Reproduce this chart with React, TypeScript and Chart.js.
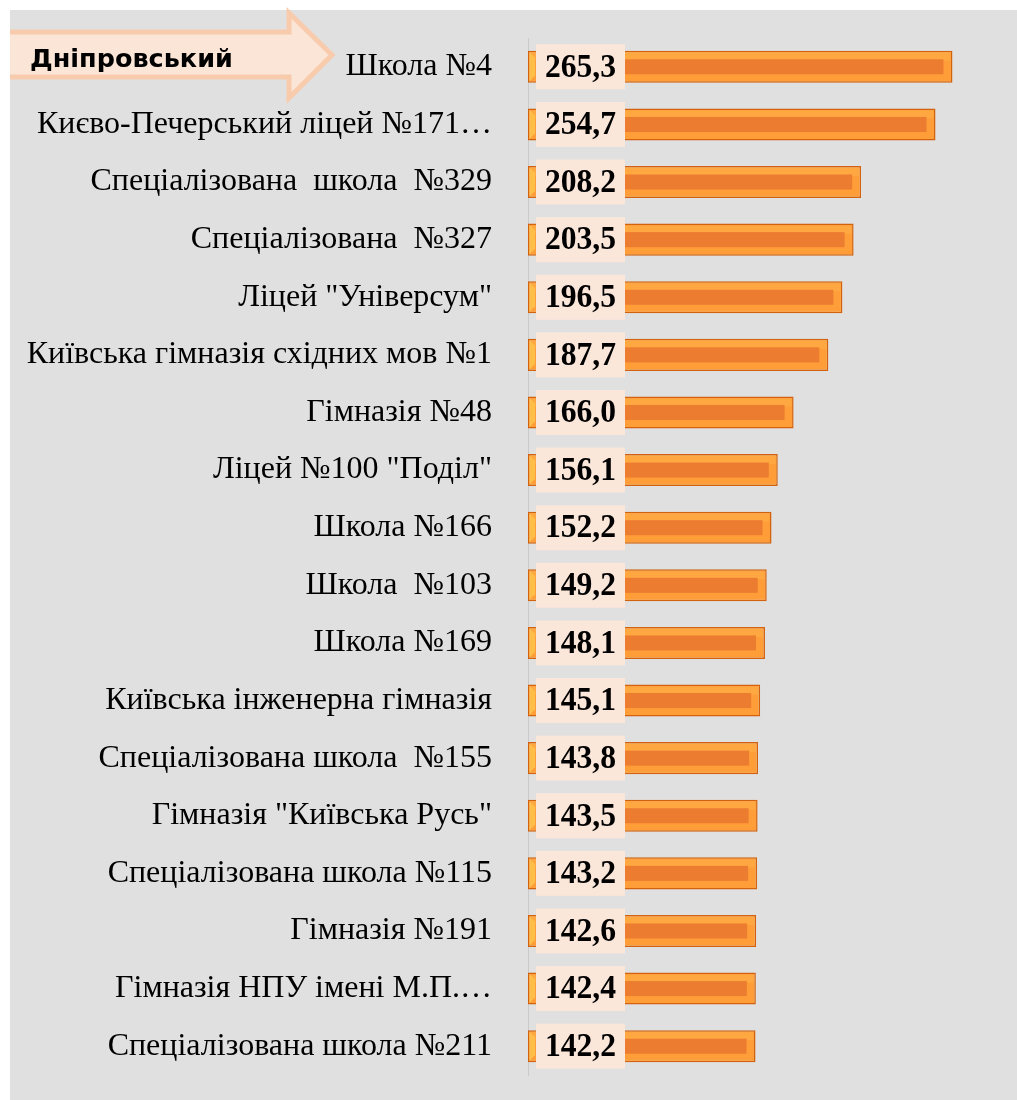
import React, { useEffect, useRef } from "react";
import { Chart, registerables } from "chart.js";

Chart.register(...registerables);

const categories: string[] = [
  "Школа №4",
  "Києво-Печерський ліцей №171…",
  "Спеціалізована  школа  №329",
  "Спеціалізована  №327",
  "Ліцей \"Універсум\"",
  "Київська гімназія східних мов №1",
  "Гімназія №48",
  "Ліцей №100 \"Поділ\"",
  "Школа №166",
  "Школа  №103",
  "Школа №169",
  "Київська інженерна гімназія",
  "Спеціалізована школа  №155",
  "Гімназія \"Київська Русь\"",
  "Спеціалізована школа №115",
  "Гімназія №191",
  "Гімназія НПУ імені М.П.…",
  "Спеціалізована школа №211",
];

const scores: number[] = [
  265.3, 254.7, 208.2, 203.5, 196.5, 187.7, 166.0, 156.1, 152.2, 149.2, 148.1,
  145.1, 143.8, 143.5, 143.2, 142.6, 142.4, 142.2,
];

const titleText = "Дніпровський";

const barDecor = {
  id: "barDecor",
  afterDatasetsDraw(chart: any) {
    const ctx = chart.ctx as CanvasRenderingContext2D;
    const meta = chart.getDatasetMeta(0);
    const area = chart.chartArea;
    const values = chart.data.datasets[0].data as number[];
    ctx.save();
    meta.data.forEach((bar: any, i: number) => {
      const { x, y, base, height } = bar.getProps(["x", "y", "base", "height"], true);
      const h = height as number;
      // top highlight band
      ctx.fillStyle = "#FFA842";
      ctx.fillRect(base + 2, y - h / 2 + 2, x - base - 4, h / 2 - 8);
      // inner darker bar
      ctx.fillStyle = "#EC7C30";
      ctx.fillRect(base + 10, y - 7.5, x - 9 - (base + 10), 15);
      // left bevel
      ctx.fillStyle = "#FFBE48";
      ctx.beginPath();
      ctx.moveTo(base + 1.5, y - h / 2 + 1.5);
      ctx.lineTo(base + 7, y - h / 2 + 7);
      ctx.lineTo(base + 7, y + h / 2 - 7);
      ctx.lineTo(base + 1.5, y + h / 2 - 1.5);
      ctx.closePath();
      ctx.fill();
      // value label box
      ctx.fillStyle = "#FBE6DA";
      ctx.fillRect(area.left + 8, y - 22.5, 89, 45);
      ctx.save();
      ctx.translate(area.left + 52.5, y + 1);
      ctx.scale(0.93, 1);
      ctx.fillStyle = "#000000";
      ctx.font = "bold 34px 'Liberation Serif', 'Times New Roman', serif";
      ctx.textAlign = "center";
      ctx.textBaseline = "middle";
      ctx.fillText(values[i].toFixed(1).replace(".", ","), 0, 0);
      ctx.restore();
    });
    ctx.restore();
  },
};

export default function App() {
  const ref = useRef<HTMLCanvasElement>(null);

  useEffect(() => {
    const chart = new Chart(ref.current as HTMLCanvasElement, {
      type: "bar",
      data: {
        labels: categories,
        datasets: [
          {
            data: scores,
            backgroundColor: "#FF9D38",
            borderColor: "#D2620E",
            borderWidth: 1.5,
            borderSkipped: false,
            barPercentage: 0.556,
            categoryPercentage: 1,
          },
        ],
      },
      options: {
        indexAxis: "y",
        responsive: false,
        animation: false,
        layout: { padding: { left: 0, right: 9, top: 28, bottom: 25 } },
        plugins: { legend: { display: false }, tooltip: { enabled: false } },
        scales: {
          x: { display: false, min: 0, max: 300 },
          y: {
            afterFit: (s: any) => {
              s.width = 518;
              s.paddingTop = 0;
              s.paddingBottom = 0;
            },
            grid: { display: false, drawTicks: false },
            border: { display: true, color: "#CACACA", width: 1 },
            ticks: {
              color: "#000000",
              padding: 36,
              autoSkip: false,
              font: { family: "'Liberation Serif', 'Times New Roman', serif", size: 32 },
            },
          },
        },
      } as any,
      plugins: [barDecor],
    });
    return () => chart.destroy();
  }, []);

  return (
    <>
      <div
        style={{
          position: "fixed",
          left: 10,
          top: 10,
          width: 1007,
          height: 1090,
          background: "#E0E0E0",
        }}
      >
        <canvas ref={ref} width={1007} height={1090} style={{ display: "block" }} />
      </div>
      <svg
        width={350}
        height={110}
        style={{ position: "fixed", left: 10, top: 0, pointerEvents: "none" }}
      >
        <polygon
          points="-10,32 279,32 279,13 322,55 279,98 279,77 -10,77"
          fill="#FBE5D6"
          stroke="#F8CBAD"
          strokeWidth={5}
          strokeLinejoin="miter"
        />
      </svg>
      <div
        style={{
          position: "fixed",
          left: 30,
          top: 43,
          fontFamily: "'DejaVu Sans', sans-serif",
          fontWeight: "bold",
          fontSize: 25.5,
          lineHeight: "30px",
          color: "#000",
          whiteSpace: "nowrap",
        }}
      >
        {titleText}
      </div>
    </>
  );
}
